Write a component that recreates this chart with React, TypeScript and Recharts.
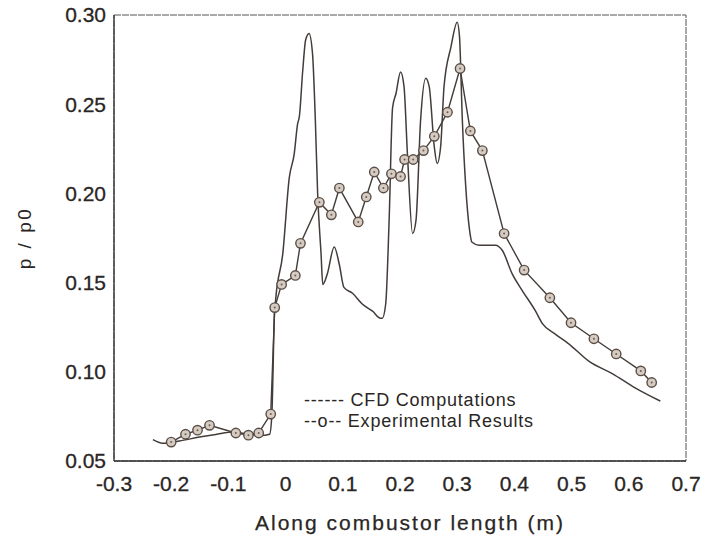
import React from 'react';
import { LineChart, Line, XAxis, YAxis, ReferenceArea, Legend } from 'recharts';

// CFD computation curve (x in m, p/p0)
const cfdX = [
  -0.232, -0.215, -0.186, -0.151, -0.122, -0.09, -0.066, -0.043, -0.028, -0.024,
  -0.022, -0.02, -0.017, -0.005, 0.0065, 0.015, 0.021, 0.024, 0.03, 0.035,
  0.041, 0.047, 0.052, 0.056, 0.062, 0.065, 0.073, 0.085, 0.094, 0.102,
  0.117, 0.134, 0.152, 0.166, 0.169, 0.175, 0.181, 0.187, 0.193, 0.201,
  0.207, 0.213, 0.222, 0.228, 0.236, 0.245, 0.251, 0.26, 0.265, 0.271,
  0.277, 0.289, 0.3, 0.304, 0.309, 0.315, 0.321, 0.326, 0.338, 0.355,
  0.367, 0.379, 0.396, 0.414, 0.437, 0.449, 0.472, 0.495, 0.53, 0.571,
  0.611, 0.655,
];
const cfdY = [
  0.062, 0.06, 0.0612, 0.0634, 0.0649, 0.0662, 0.065, 0.0643, 0.065, 0.076,
  0.1, 0.129, 0.1417, 0.166, 0.209, 0.222, 0.239, 0.243, 0.269, 0.286,
  0.2897, 0.2786, 0.241, 0.2, 0.166, 0.149, 0.155, 0.17, 0.16, 0.1473,
  0.144, 0.138, 0.134, 0.13, 0.13, 0.138, 0.185, 0.248, 0.256, 0.268,
  0.26, 0.222, 0.1775, 0.185, 0.241, 0.2646, 0.26, 0.226, 0.2168, 0.226,
  0.26, 0.282, 0.296, 0.288, 0.241, 0.2035, 0.181, 0.1726, 0.171, 0.171,
  0.171, 0.168, 0.155, 0.1454, 0.134, 0.127, 0.121, 0.1157, 0.106, 0.099,
  0.091, 0.0836,
];

// Experimental results
const expX = [
  -0.2, -0.175, -0.154, -0.133, -0.087, -0.065, -0.047, -0.026, -0.019, -0.007,
  0.017, 0.026, 0.059, 0.08, 0.094, 0.127, 0.141, 0.155, 0.171, 0.185,
  0.201, 0.208, 0.223, 0.241, 0.26, 0.283, 0.305, 0.323, 0.344, 0.382,
  0.417, 0.462, 0.499, 0.539, 0.578, 0.621, 0.64,
];
const expY = [
  0.0606, 0.065, 0.0673, 0.07, 0.0657, 0.0645, 0.0657, 0.0763, 0.136, 0.149,
  0.154, 0.172, 0.195, 0.188, 0.203, 0.184, 0.198, 0.212, 0.203, 0.211,
  0.2095, 0.219, 0.219, 0.224, 0.232, 0.2455, 0.27, 0.235, 0.224, 0.1775,
  0.157, 0.1415, 0.1275, 0.1185, 0.11, 0.1005, 0.094,
];

const xTicks = [-0.3, -0.2, -0.1, 0, 0.1, 0.2, 0.3, 0.4, 0.5, 0.6, 0.7];
const xTickLabels = ['-0.3', '-0.2', '-0.1', '0', '0.1', '0.2', '0.3', '0.4', '0.5', '0.6', '0.7'];
const yTicks = [0.05, 0.1, 0.15, 0.2, 0.25, 0.3];
const yTickLabels = ['0.05', '0.10', '0.15', '0.20', '0.25', '0.30'];
const legendLabels = ['------ CFD Computations', '--o-- Experimental Results'];
const xAxisTitle = 'Along combustor length (m)';
const yAxisTitle = 'p / p0';

const cfdData = cfdX.map((x, i) => ({ x, y: cfdY[i] }));
const expData = expX.map((x, i) => ({ x, y: expY[i] }));

const FONT = '"Liberation Sans", Arial, Helvetica, sans-serif';
const INK = '#2a2624';
const LINE = '#433c39';

const ExpDot = (props: any) => {
  const { cx, cy, index } = props;
  if (cx == null || cy == null) return null;
  return (
    <g key={`d-${index}`}>
      <circle cx={cx} cy={cy} r={4.7} fill="#d6cbc1" stroke="#5a4e47" strokeWidth={1.4} />
      <circle cx={cx} cy={cy} r={1} fill="#6a5d55" />
    </g>
  );
};

const XTitle = (props: any) => {
  const vb = props.viewBox || {};
  return (
    <text
      x={vb.x + vb.width / 2 + 10}
      y={vb.y + 69}
      textAnchor="middle"
      fontFamily={FONT}
      fontSize={21}
      letterSpacing={2}
      fill={INK}
      stroke={INK}
      strokeWidth={0.25}
    >
      {xAxisTitle}
    </text>
  );
};

const YTitle = (props: any) => {
  const vb = props.viewBox || {};
  const cy = vb.y + vb.height / 2;
  return (
    <text
      x={24}
      y={cy}
      transform={`rotate(-90 24 ${cy})`}
      textAnchor="middle"
      dominantBaseline="central"
      fontFamily={FONT}
      fontSize={19}
      letterSpacing={2.5}
      fill={INK}
    >
      {yAxisTitle}
    </text>
  );
};

const LegendBox = () => (
  <div style={{ fontFamily: FONT, fontSize: 18, color: INK, lineHeight: '21px', letterSpacing: 0.8, whiteSpace: 'pre' }}>
    {legendLabels.map((l) => (
      <div key={l}>{l}</div>
    ))}
  </div>
);

const tickStyle = { fontFamily: FONT, fontSize: 21, fill: INK, stroke: INK, strokeWidth: 0.3 };

export default function App() {
  return (
    <div style={{ position: 'absolute', left: 0, top: 0, width: 718, height: 541, background: '#fff' }}>
      <LineChart width={718} height={541} margin={{ top: 15, right: 32, left: 0, bottom: 5 }}>
        <ReferenceArea
          x1={-0.3}
          x2={0.7}
          y1={0.05}
          y2={0.3}
          fill="none"
          stroke="#555"
          strokeWidth={1}
          strokeDasharray="7 1"
        />
        <XAxis
          dataKey="x"
          type="number"
          domain={[-0.3, 0.7]}
          ticks={xTicks}
          tickFormatter={(v: number) => xTickLabels[xTicks.indexOf(v)] ?? String(v)}
          tickLine={false}
          tickSize={0}
          tickMargin={15}
          height={75}
          axisLine={{ stroke: '#333', strokeWidth: 1.3 }}
          tick={tickStyle}
          allowDataOverflow
          label={<XTitle />}
        />
        <YAxis
          dataKey="y"
          type="number"
          domain={[0.05, 0.3]}
          ticks={yTicks}
          tickFormatter={(v: number) => yTickLabels[yTicks.indexOf(v)] ?? v.toFixed(2)}
          tickLine={false}
          tickSize={0}
          tickMargin={8}
          width={114}
          axisLine={{ stroke: '#333', strokeWidth: 1.3 }}
          tick={tickStyle}
          allowDataOverflow
          label={<YTitle />}
        />
        <Legend
          layout="horizontal"
          verticalAlign="middle"
          align="center"
          content={<LegendBox />}
          wrapperStyle={{ position: 'absolute', left: 304, top: 390, width: 260, height: 44 }}
        />
        <Line
          data={cfdData}
          dataKey="y"
          type="monotone"
          stroke={LINE}
          strokeWidth={1.5}
          dot={false}
          activeDot={false}
          isAnimationActive={false}
          legendType="none"
        />
        <Line
          data={expData}
          dataKey="y"
          type="linear"
          stroke={LINE}
          strokeWidth={1.4}
          dot={<ExpDot />}
          activeDot={false}
          isAnimationActive={false}
          legendType="none"
        />
      </LineChart>
    </div>
  );
}
